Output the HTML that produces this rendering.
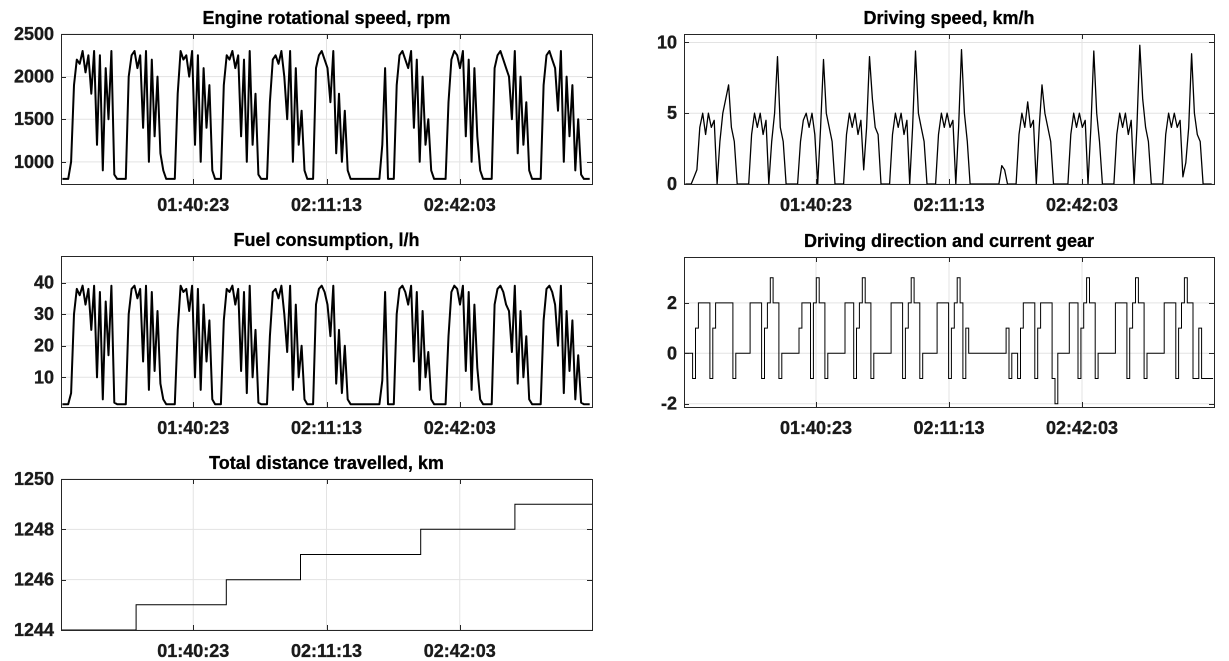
<!DOCTYPE html>
<html><head><meta charset="utf-8">
<style>
html,body{margin:0;padding:0;background:#fff;}
svg{display:block;font-family:"Liberation Sans",Arial,sans-serif;}
</style></head>
<body>
<svg id="fig" width="1229" height="661" viewBox="0 0 1229 661" xmlns="http://www.w3.org/2000/svg"></svg>
<script>
// ---- data (sampled every 40 s starting at t0) ----
const t0 = 4187, dt = 40;
const tickTimes = [6023, 7873, 9723];
const tickLabels = ["01:40:23", "02:11:13", "02:42:03"];
const rpm = [800,800,800,
1000,1900,2200,2150,2300,2050,2250,1800,2300,1200,2250,900,2100,1500,2300,850,
800,800,800,800,
2000,2250,2300,2100,2250,1400,2300,1000,2200,1300,2000,1100,900,
800,800,800,800,
1800,2300,2200,2250,2000,2300,1200,2250,1000,2100,1400,1900,900,
800,800,800,
1900,2250,2200,2300,2100,2250,1300,2200,1000,2300,1200,1800,850,
800,800,800,
1700,2200,2250,2150,2300,2000,1500,2300,1000,2100,1200,1600,900,
800,800,800,
2100,2250,2300,2200,2100,1700,2300,1100,1800,1000,1600,900,
800,800,800,800,800,800,800,800,800,800,800,1200,2100,800,800,800,
1900,2250,2300,2200,2100,2300,1400,2200,1000,2000,1200,1500,900,
800,800,800,800,800,
1700,2200,2300,2250,2100,2300,1300,2200,1000,2100,1300,900,
800,800,800,800,
2100,2250,2300,2200,2100,2000,1500,2300,1100,2000,1200,1700,900,
800,800,800,800,
1900,2250,2300,2200,2100,1600,2300,1000,2000,1300,1900,900,1500,850,
800,800,800];
const fuel = [1.5,1.5,1.5,
5,30,38,36,39,33,38,25,39,10,37,3,34,17,39,2,
1.5,1.5,1.5,1.5,
30,38,39,35,38,15,39,6,37,12,31,8,3,
1.5,1.5,1.5,1.5,
25,39,37,38,31,39,10,38,6,33,15,28,3,
1.5,1.5,1.5,
28,38,37,39,33,38,12,37,5,39,10,25,2,
1.5,1.5,1.5,
23,37,38,35,39,30,18,39,6,33,10,20,3,
1.5,1.5,1.5,
33,38,39,37,33,23,39,8,25,5,20,3,
1.5,1.5,1.5,1.5,1.5,1.5,1.5,1.5,1.5,1.5,1.5,9,37,1.5,1.5,1.5,
30,38,39,37,33,39,15,37,6,31,10,18,3,
1.5,1.5,1.5,1.5,1.5,
23,37,39,38,33,39,12,37,6,33,13,3,
1.5,1.5,1.5,1.5,
33,38,39,37,33,31,18,39,8,31,10,23,3,
1.5,1.5,1.5,1.5,
28,38,39,37,33,20,39,5,31,12,28,3,17,2,
1.5,1.5,1.5];
const speed = [0,0,0,
0.5,1,4,5,3.5,5,4,4.5,0,3,5,6,7,4,3,0,
0,0,0,0,
3.5,5,4,5,3.5,4.5,0,3,5,9,4,3,0,
0,0,0,0,
3,4.5,5,4,5,3.5,0,4,8.8,5,4,3,0,
0,0,0,
3.5,5,4,5,3.5,4.5,1,4,9,6,4,3.5,0,
0,0,0,
3.5,5,4,5,3.5,4.5,0,4,9.4,5,4,3,0,
0,0,0,
3.5,5,4,5,4,4.5,0,4,9.5,5,3,0,
0,0,0,0,0,0,0,0,0,0,1.3,1,0,0,0,0,
3.5,5,4,5.8,4,4.5,0,4,7,5,4,3,0,
0,0,0,0,0,
3.5,5,4,5,4,4.5,0,4,9.4,5,3,0,
0,0,0,0,
3.5,5,4,5,3.5,4.5,0,4,9.8,6,4,3,0,
0,0,0,0,
3.5,5,4,5,4,4.5,0.5,1.5,4,9.2,5,3.5,3,0,
0,0,0];
const gear = [0,0,0,
-1,1,2,2,2,2,-1,1,2,2,2,2,2,2,-1,0,
0,0,0,0,
2,2,2,2,-1,1,2,3,2,2,-1,0,0,
0,0,0,0,
1,2,2,2,-1,2,3,2,2,-1,0,0,0,
0,0,0,
2,2,2,-1,1,2,3,2,2,-1,0,0,0,
0,0,0,
2,2,2,2,-1,1,2,3,2,2,-1,0,0,
0,0,0,
2,2,2,2,-1,1,2,3,2,-1,1,0,
0,0,0,0,0,0,0,0,0,0,0,0,1,-1,0,0,
-1,1,2,2,2,2,-1,1,2,2,2,2,-1,
-2,0,0,0,0,
2,2,2,-1,1,2,3,2,2,-1,0,0,
0,0,0,0,
2,2,2,2,-1,1,2,3,2,2,-1,0,0,
0,0,0,0,
2,2,2,2,-1,1,2,3,2,2,-1,-1,1,-1,
-1,-1,-1];
const distTimes = [4187, 5230, 6482, 7512, 9181, 10488, 11559];
const distValues = [1244, 1245, 1246, 1247, 1248, 1249, 1249];

const rpmTicks = [1000,1500,2000,2500];
const speedTicks = [0,5,10];
const fuelTicks = [10,20,30,40];
const gearTicks = [-2,0,2];
const distTicks = [1244,1246,1248,1250];

const NS = "http://www.w3.org/2000/svg";
const svg = document.getElementById("fig");
function mk(tag, attrs, parent){
  const e = document.createElementNS(NS, tag);
  for (const k in attrs) e.setAttribute(k, attrs[k]);
  (parent||svg).appendChild(e);
  return e;
}
const tmin = 4187, tmax = 11559;
const TXT = {"font-size": 18, "font-weight": "bold", fill: "#1a1a1a", stroke: "#1a1a1a", "stroke-width": 0.35};

function makeAxes(name, title, x0, x1, y0, y1, ymin, ymax, yticks){
  const g = mk("g", {});
  
  
  const xs = t => x0 + (t - tmin) / (tmax - tmin) * (x1 - x0);
  const ys = v => y1 - (v - ymin) / (ymax - ymin) * (y1 - y0);
  tickTimes.forEach((t, i) => {
    const gl = mk("line", {x1: xs(t), x2: xs(t), y1: y0, y2: y1, stroke: "#e3e3e3", "stroke-width": 1}, g);
    
    
  });
  yticks.forEach(v => {
    const gl = mk("line", {x1: x0, x2: x1, y1: ys(v), y2: ys(v), stroke: "#e3e3e3", "stroke-width": 1}, g);
    
    
  });
  const series = mk("g", {}, g);
  
  
  const box = mk("rect", {x: x0 + 0.5, y: y0 + 0.5, width: x1 - x0, height: y1 - y0, fill: "none", stroke: "#262626", "stroke-width": 1}, g);
  
  
  tickTimes.forEach((t, i) => {
    const x = Math.round(xs(t)) + 0.5;
    const tk = mk("path", {d: `M${x},${y1} v-5 M${x},${y0} v5`, stroke: "#262626", "stroke-width": 1}, g);
    
    
    const lb = mk("text", Object.assign({x: xs(t), y: y1 + 27, "text-anchor": "middle"}, TXT), g);
    
    
    lb.textContent = tickLabels[i];
  });
  yticks.forEach(v => {
    const y = Math.round(ys(v)) + 0.5;
    const tk = mk("path", {d: `M${x0},${y} h5 M${x1},${y} h-5`, stroke: "#262626", "stroke-width": 1}, g);
    
    
    const lb = mk("text", Object.assign({x: x0 - 7, y: ys(v) + 6, "text-anchor": "end"}, TXT), g);
    
    
    lb.textContent = String(v);
  });
  const tt = mk("text", {x: (x0 + x1) / 2, y: y0 - 10, "text-anchor": "middle", "font-size": 18, "font-weight": "bold", fill: "#000", stroke: "#000", "stroke-width": 0.3}, g);
  
  
  tt.textContent = title;
  return {xs, ys, series};
}

function drawLine(ax, values, name, w){
  const pts = values.map((v, i) => `${ax.xs(t0 + dt * i + dt / 2).toFixed(1)},${ax.ys(v).toFixed(1)}`);
  const p = mk("polyline", {points: pts.join(" "), fill: "none", stroke: "#000", "stroke-width": w, "stroke-linejoin": "round"}, ax.series);
  
  
}
function drawSteps(ax, times, values, name){
  let d = "";
  values.forEach((v, i) => {
    const xa = ax.xs(times[i]), xb = ax.xs(i + 1 < times.length ? times[i + 1] : times[i]);
    d += (i === 0 ? "M" : "L") + xa.toFixed(1) + "," + ax.ys(v).toFixed(1) + " L" + xb.toFixed(1) + "," + ax.ys(v).toFixed(1) + " ";
  });
  const p = mk("path", {d: d, fill: "none", stroke: "#000", "stroke-width": 1}, ax.series);
  
  
}

const a1 = makeAxes("engine-speed", "Engine rotational speed, rpm", 61, 592, 34, 184, 740, 2500, rpmTicks);
drawLine(a1, rpm, "rpm-line", 2);
const a2 = makeAxes("driving-speed", "Driving speed, km/h", 684, 1214, 34, 184, 0, 10.6, speedTicks);
drawLine(a2, speed, "speed-line", 1.3);
const a3 = makeAxes("fuel", "Fuel consumption, l/h", 61, 592, 256, 407, 0.6, 48.4, fuelTicks);
drawLine(a3, fuel, "fuel-line", 2);
const a4 = makeAxes("gear", "Driving direction and current gear", 684, 1214, 257, 407, -2.13, 3.82, gearTicks);
const gearTimes = gear.map((v, i) => t0 + dt * i);
gearTimes.push(t0 + dt * gear.length);
drawSteps(a4, gearTimes, gear.concat([gear[gear.length - 1]]), "gear-line");
const a5 = makeAxes("distance", "Total distance travelled, km", 61, 592, 479, 630, 1244, 1250, distTicks);
drawSteps(a5, distTimes, distValues, "distance-line");
</script>
</body></html>
